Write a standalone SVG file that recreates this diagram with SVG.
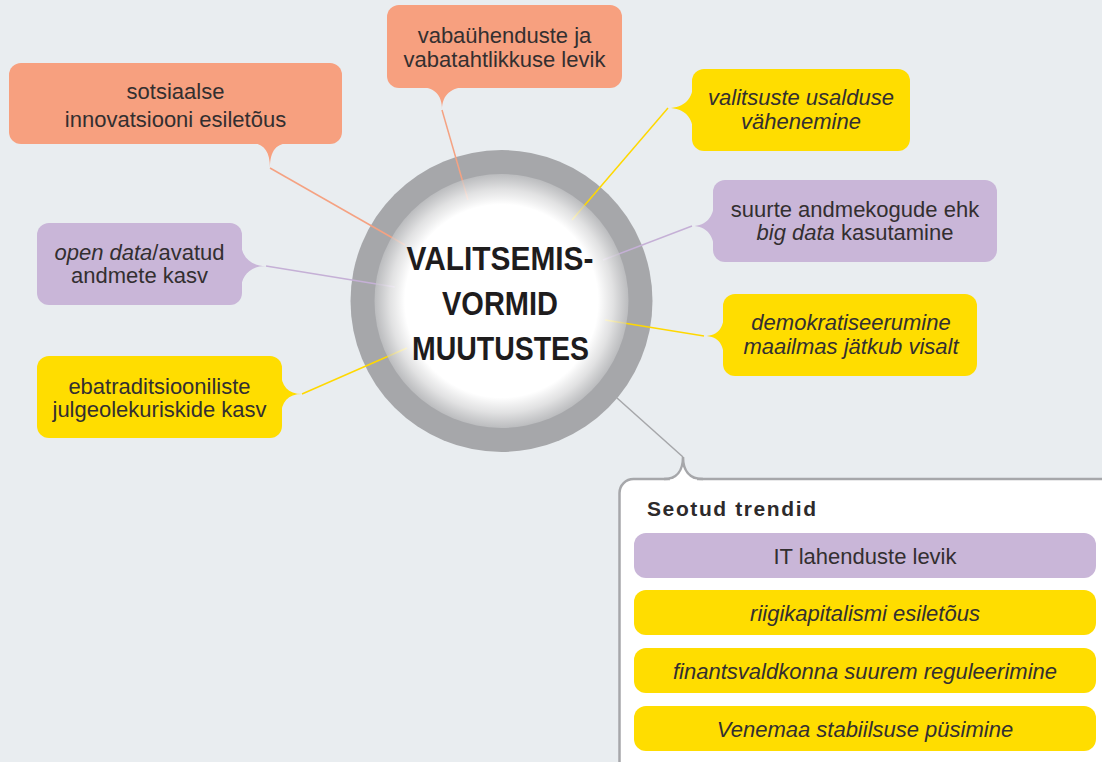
<svg xmlns="http://www.w3.org/2000/svg" width="1102" height="762" viewBox="0 0 1102 762">
<defs>
<radialGradient id="inner" cx="0.5" cy="0.5" r="0.5">
<stop offset="0" stop-color="#FFFFFF" stop-opacity="1"/>
<stop offset="0.76" stop-color="#FFFFFF" stop-opacity="1"/>
<stop offset="0.88" stop-color="#F5F5F5" stop-opacity="0.75"/>
<stop offset="1" stop-color="#C4C5C7" stop-opacity="0.7"/>
</radialGradient>
</defs>
<style>
.bg{fill:#E9EDF0}
.salmon{fill:#F7A07F}
.yellow{fill:#FFDD00}
.purple{fill:#C9B6D8}
.t{font-family:"Liberation Sans",Arial,Helvetica,sans-serif;font-size:22px;fill:#332F30;text-anchor:middle}
.i{font-style:italic}
.c{stroke-width:1.5;fill:none}
.cs{stroke:#F5A282}
.cy{stroke:#FFD800}
.cp{stroke:#C5B0D6}
.cg{stroke:#A6A7AA}
.center{font-family:"Liberation Sans",Arial,Helvetica,sans-serif;font-size:34px;font-weight:bold;fill:#1E1C1D;text-anchor:middle}
.title{font-family:"Liberation Sans",Arial,Helvetica,sans-serif;font-size:21px;font-weight:bold;fill:#2D2A2B;letter-spacing:1.6px}
</style>
<rect class="bg" x="0" y="0" width="1102" height="762"/>

<g id="center-ring">
<circle cx="501.5" cy="301" r="151" fill="#A6A7AA"/>
</g>

<g id="connectors">
<line class="c cs" x1="270" y1="168" x2="405" y2="245"/>
<line class="c cs" x1="442" y1="110" x2="468" y2="200"/>
<line class="c cy" x1="668" y1="108" x2="572" y2="220"/>
<line class="c cp" x1="692" y1="226" x2="603" y2="260"/>
<line class="c cy" x1="704" y1="336" x2="605" y2="320"/>
<line class="c cp" x1="266" y1="266" x2="395" y2="287"/>
<line class="c cy" x1="302" y1="394" x2="407" y2="348"/>
<line class="c cg" x1="617" y1="398" x2="683" y2="457"/>
</g>

<g id="center">
<circle cx="501.5" cy="301" r="127" fill="url(#inner)"/>
<text class="center" x="500" y="270" textLength="187" lengthAdjust="spacingAndGlyphs">VALITSEMIS-</text>
<text class="center" x="500" y="315" textLength="116" lengthAdjust="spacingAndGlyphs">VORMID</text>
<text class="center" x="500.5" y="360" textLength="177" lengthAdjust="spacingAndGlyphs">MUUTUSTES</text>
</g>

<g id="node-sotsiaalse">
<rect class="salmon" x="9" y="63" width="333" height="81" rx="12"/>
<path class="salmon" d="M250,143 C263,143 270,150 270,168 C270,150 277,143 290,143 Z"/>
<text class="t" x="175.5" y="99">sotsiaalse</text>
<text class="t" x="175.5" y="126.5">innovatsiooni esiletõus</text>
</g>

<g id="node-vabauhenduste">
<rect class="salmon" x="387" y="5" width="235" height="83" rx="12"/>
<path class="salmon" d="M418,87 C434,87 442,94 442,110 C442,94 452,87 468,87 Z"/>
<text class="t" x="504.5" y="43">vabaühenduste ja</text>
<text class="t" x="504.5" y="67">vabatahtlikkuse levik</text>
</g>

<g id="node-valitsuste">
<rect class="yellow" x="692" y="69" width="218" height="82" rx="12"/>
<path class="yellow" d="M693,84 C693,98 685,108 668,108 C685,108 693,118 693,132 Z"/>
<text class="t i" x="801" y="105">valitsuste usalduse</text>
<text class="t i" x="801" y="129">vähenemine</text>
</g>

<g id="node-bigdata">
<rect class="purple" x="713" y="180" width="284" height="82" rx="12"/>
<path class="purple" d="M714,202 C714,216 707,226 692,226 C707,226 714,236 714,250 Z"/>
<text class="t" x="855" y="217">suurte andmekogude ehk</text>
<text class="t" x="855" y="240"><tspan class="i">big data</tspan> kasutamine</text>
</g>

<g id="node-demokratiseerumine">
<rect class="yellow" x="723" y="294" width="254" height="82" rx="12"/>
<path class="yellow" d="M724,312 C724,326 720,336 704,336 C720,336 724,346 724,360 Z"/>
<text class="t i" x="851" y="330">demokratiseerumine</text>
<text class="t i" x="851" y="354">maailmas jätkub visalt</text>
</g>

<g id="node-opendata">
<rect class="purple" x="37" y="223" width="205" height="82" rx="12"/>
<path class="purple" d="M241,242 C241,256 250,266 266,266 C250,266 241,276 241,290 Z"/>
<text class="t" x="139.5" y="260"><tspan class="i">open data</tspan>/avatud</text>
<text class="t" x="139.5" y="283">andmete kasv</text>
</g>

<g id="node-ebatraditsiooniliste">
<rect class="yellow" x="37" y="356" width="245" height="82" rx="12"/>
<path class="yellow" d="M281,372 C281,386 288,394 302,394 C288,394 281,402 281,416 Z"/>
<text class="t" x="159.5" y="394">ebatraditsiooniliste</text>
<text class="t" x="159.5" y="417">julgeolekuriskide kasv</text>
</g>

<g id="node-seotud">
<rect x="619.5" y="479" width="500" height="320" rx="14" fill="#FFFFFF" stroke="#A6A7AA" stroke-width="2.5"/>
<path d="M666,480 C678,480 683,470 683,457 C683,470 688,480 701,480 Z" fill="#FFFFFF"/>
<path d="M664,479 C677,479 683,470 683,457 C683,470 689,479 703,479" fill="none" stroke="#A6A7AA" stroke-width="2.5"/>
<rect x="670" y="479.5" width="27" height="3" fill="#FFFFFF"/>
<text class="title" x="647" y="516">Seotud trendid</text>
<rect class="purple" x="634" y="533" width="462" height="45" rx="12"/>
<text class="t" x="865" y="564">IT lahenduste levik</text>
<rect class="yellow" x="634" y="590" width="462" height="45" rx="12"/>
<text class="t i" x="865" y="621">riigikapitalismi esiletõus</text>
<rect class="yellow" x="634" y="648" width="462" height="45" rx="12"/>
<text class="t i" x="865" y="679">finantsvaldkonna suurem reguleerimine</text>
<rect class="yellow" x="634" y="706" width="462" height="45" rx="12"/>
<text class="t i" x="865" y="737">Venemaa stabiilsuse püsimine</text>
</g>
</svg>
